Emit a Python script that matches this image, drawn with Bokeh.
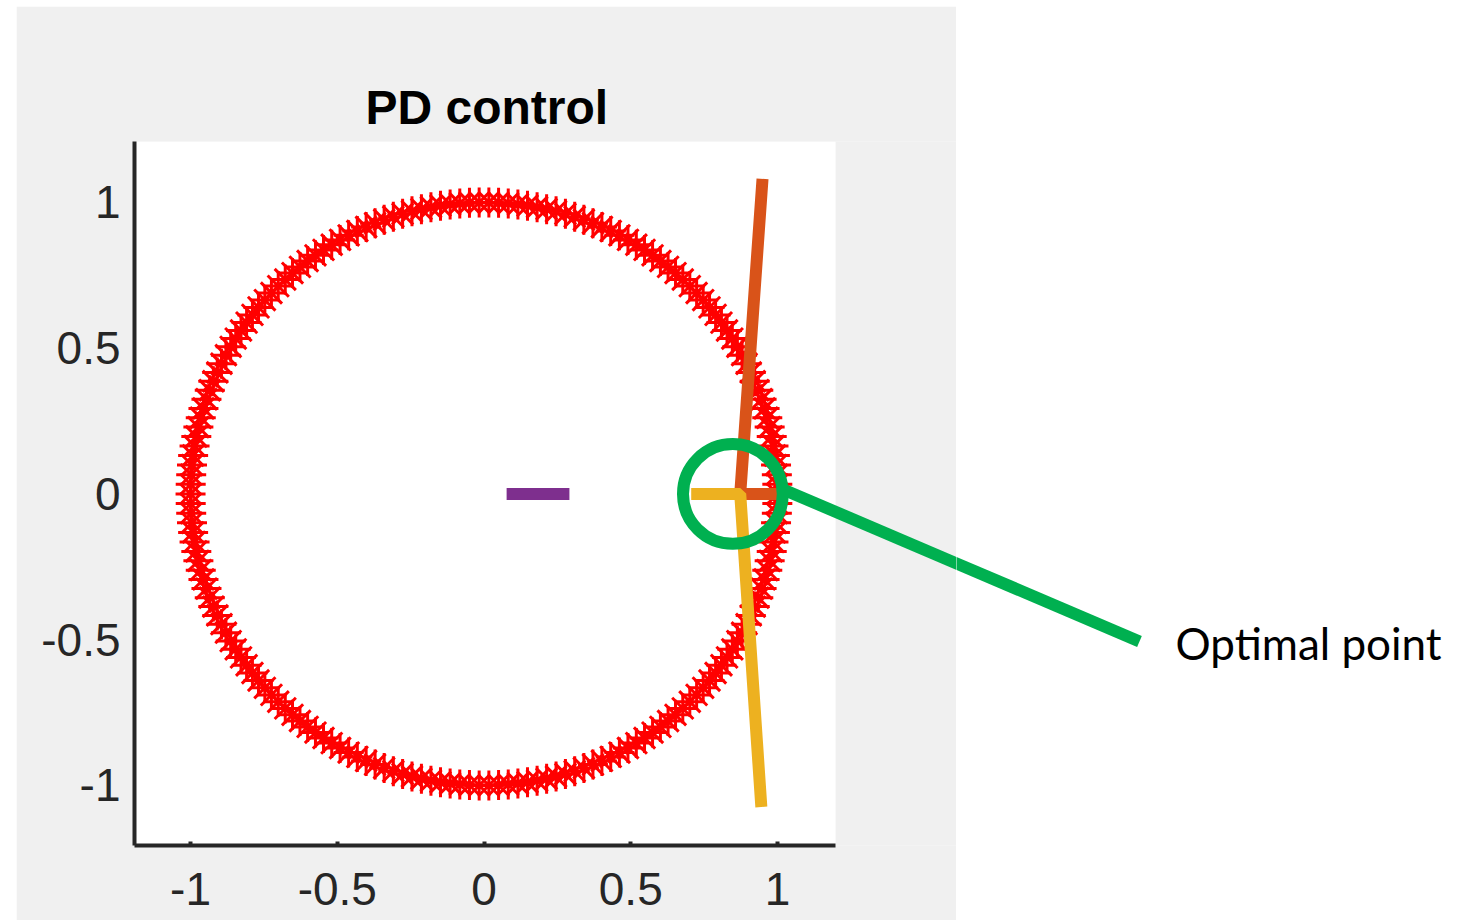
import numpy as np
from bokeh.plotting import figure
from bokeh.layouts import row
from bokeh.models import Range1d, BoxAnnotation, Label, FixedTicker
from bokeh.embed import file_html
from bokeh.resources import INLINE

# ---- data ----
circle_points = 190                      # markers along the unit circle
branch1_x = [1.0, 0.873, 0.949]          # orange branch
branch1_y = [0.0, 0.0, 1.081]
branch2_x = [0.706, 0.873, 0.945]        # yellow branch
branch2_y = [0.0, 0.0, -1.074]
branch3_x = [0.077, 0.291]               # purple branch
branch3_y = [0.0, 0.0]
optimal_x = [0.848]
optimal_y = [0.0]
ticks = [-1, -0.5, 0, 0.5, 1]
tick_labels = {-1: "-1", -0.5: "-0.5", 0: "0", 0.5: "0.5", 1: "1"}
callout_text = "Optimal point"

theta = np.linspace(0, 2 * np.pi, circle_points, endpoint=False)
cx, cy = np.cos(theta), np.sin(theta)

XMIN, XMAX, YMIN, YMAX = -1.191, 1.198, -1.206, 1.209   # visible axes box
XPANEL = 1.610                                          # right edge of grey panel
XPAGE = 3.3305                                          # right edge of page


def to_x(px):
    return (px - 483.5) / 293.5


def to_y(py):
    return (493.5 - py) / 291.5


CALL_START = (785, 490)
CALL_END = (1139, 641)
TEXT_POS = (1175, 643)

# ---- main chart (grey panel) ----
p = figure(width=940, height=914, output_backend="svg", toolbar_location=None,
           x_range=Range1d(XMIN, XPANEL), y_range=Range1d(YMIN, YMAX),
           frame_width=822, frame_height=704,
           min_border_left=118, min_border_right=0, min_border_top=135, min_border_bottom=75,
           title="PD control", margin=(6, 0, 2, 16))
p.border_fill_color = "#f0f0f0"
p.background_fill_color = "#f0f0f0"
p.outline_line_color = None
p.grid.visible = False
p.add_layout(BoxAnnotation(left=XMIN, right=XMAX, fill_color="white", fill_alpha=1.0,
                           line_color=None, level="underlay"))

p.title.align = "left"
p.title.offset = 231
p.title.text_font = "Liberation Sans"
p.title.text_font_size = "48px"
p.title.text_font_style = "bold"
p.title.text_color = "#000000"
p.title.standoff = 16

for ax in (p.xaxis[0], p.yaxis[0]):
    ax.ticker = FixedTicker(ticks=ticks)
    ax.major_label_overrides = tick_labels
    ax.axis_line_color = "#262626"
    ax.axis_line_width = 4
    ax.major_tick_line_color = "#262626"
    ax.major_tick_line_width = 4
    ax.major_tick_in = 4
    ax.major_tick_out = 0
    ax.minor_tick_line_color = None
    ax.major_label_text_font = "Liberation Sans"
    ax.major_label_text_font_size = "46px"
    ax.major_label_text_color = "#262626"
p.xaxis.bounds = (XMIN, XMAX)
p.yaxis.major_tick_line_color = None
p.xaxis.major_label_standoff = 27
p.yaxis.major_label_standoff = 14

p.scatter(cx, cy, marker="asterisk", size=30, line_color="#ff0000", line_width=3)
p.line(branch1_x, branch1_y, line_color="#D95319", line_width=12)
p.line(branch2_x, branch2_y, line_color="#EDB120", line_width=12)
p.line(branch3_x, branch3_y, line_color="#7E2F8E", line_width=12)
p.circle(optimal_x, optimal_y, radius=0.170, fill_color=None, line_color="#00B050", line_width=12)
p.segment(x0=[to_x(CALL_START[0])], y0=[to_y(CALL_START[1])],
          x1=[to_x(CALL_END[0])], y1=[to_y(CALL_END[1])],
          line_color="#00B050", line_width=12)

# ---- right-hand white area with callout (same data coordinates) ----
q = figure(width=505, height=914, output_backend="svg", toolbar_location=None,
           x_range=Range1d(XPANEL, XPAGE), y_range=Range1d(YMIN, YMAX),
           frame_width=505, frame_height=704,
           x_axis_location=None, y_axis_location=None,
           min_border_left=0, min_border_right=0, min_border_top=135, min_border_bottom=75,
           margin=(6, 0, 2, 0))
q.grid.visible = False
q.outline_line_color = None
q.background_fill_color = "white"
q.border_fill_color = "white"
q.segment(x0=[to_x(CALL_START[0])], y0=[to_y(CALL_START[1])],
          x1=[to_x(CALL_END[0])], y1=[to_y(CALL_END[1])],
          line_color="#00B050", line_width=12)
q.add_layout(Label(x=to_x(TEXT_POS[0]), y=to_y(TEXT_POS[1]), text=callout_text, text_font="Lato",
                   text_font_size="44px", text_color="#000000", text_baseline="alphabetic"))

layout = row(p, q)
open("out.html", "w").write(file_html(layout, INLINE))
